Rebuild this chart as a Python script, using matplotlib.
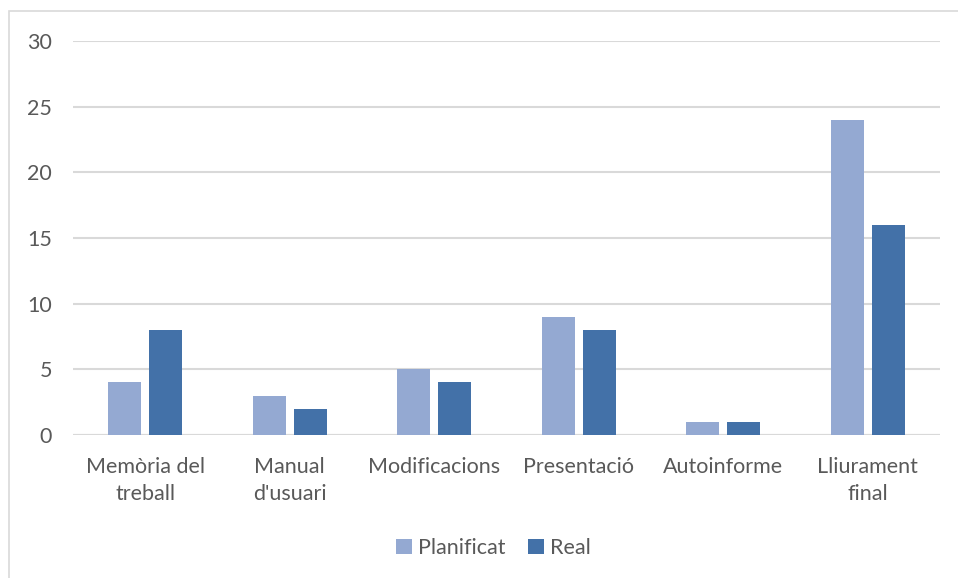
import matplotlib
matplotlib.use("Agg")
import matplotlib.pyplot as plt
from matplotlib.patches import Rectangle
import numpy as np

categories = ["Memòria del\ntreball", "Manual\nd'usuari", "Modificacions",
              "Presentació", "Autoinforme", "Lliurament\nfinal"]
planificat = [4, 3, 5, 9, 1, 24]
real = [8, 2, 4, 8, 1, 16]
yticks = [0, 5, 10, 15, 20, 25, 30]

plt.rcParams['font.family'] = ['Lato', 'DejaVu Sans']
text_color = '#595959'
grid_color = '#D9D9D9'
c_plan = '#94A9D2'
c_real = '#4371A8'
fs = 15.5

fig = plt.figure(figsize=(9.58, 5.78), dpi=100)
fig.patch.set_facecolor('white')

# chart frame
fig.add_artist(Rectangle((9 / 958, -0.1), 1.2, 1 - 11 / 578 + 0.1,
                         transform=fig.transFigure, fill=False,
                         edgecolor=grid_color, linewidth=1.2))

ax = fig.add_axes([73 / 958, 1 - 435 / 578, (940 - 73) / 958, (435 - 41) / 578])
x = np.arange(len(categories))
w = 0.23
gap = 0.055
ax.bar(x - (w + gap) / 2, planificat, width=w, color=c_plan, zorder=3, label='Planificat')
ax.bar(x + (w + gap) / 2, real, width=w, color=c_real, zorder=3, label='Real')

ax.set_xlim(-0.5, len(categories) - 0.5)
ax.set_ylim(0, 30)
ax.set_yticks(yticks)
ax.yaxis.grid(True, color=grid_color, linewidth=1.5, zorder=0)
for s in ax.spines.values():
    s.set_visible(False)
ax.axhline(0, color=grid_color, linewidth=1.5, zorder=1)
ax.tick_params(axis='both', length=0, colors=text_color, labelsize=fs)
ax.tick_params(axis='y', pad=15)
ax.tick_params(axis='x', pad=16)
ax.set_xticks(x)
ax.set_xticklabels(categories, linespacing=1.4)

leg = fig.legend(loc='center', bbox_to_anchor=(0.515, 1 - 548 / 578), ncol=2,
                 frameon=False, fontsize=fs, handlelength=0.75, handleheight=0.75,
                 handletextpad=0.3, columnspacing=1.0)
for t in leg.get_texts():
    t.set_color(text_color)

fig.savefig('out.png', dpi=100, facecolor='white')
